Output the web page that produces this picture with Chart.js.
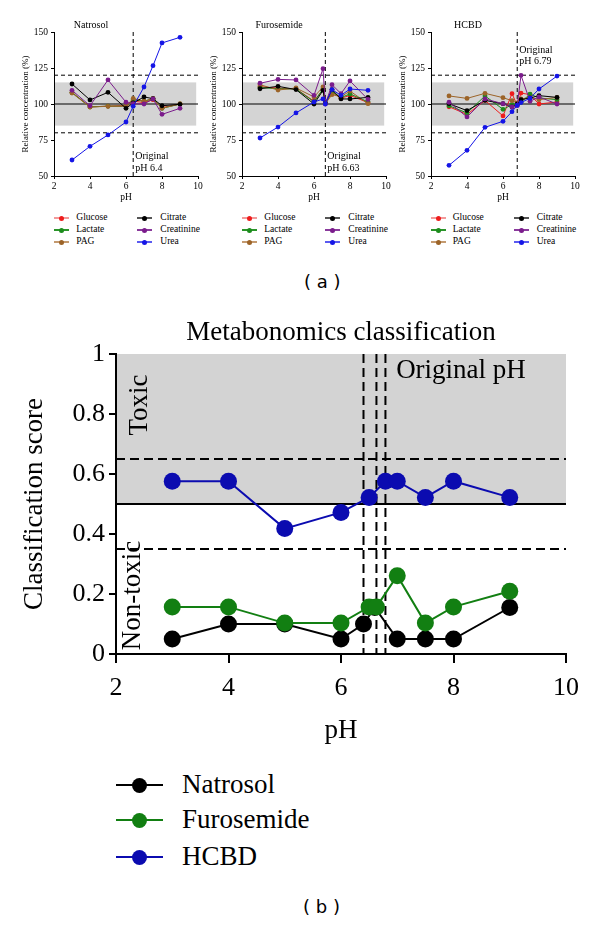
<!DOCTYPE html>
<html>
<head>
<meta charset="utf-8">
<script src="https://cdn.jsdelivr.net/npm/chart.js@4.4.0/dist/chart.umd.min.js"></script>
<style>
  body { margin: 0; background: #fff; width: 600px; height: 925px; position: relative; overflow: hidden; }
  canvas { position: absolute; }
  .abs { position: absolute; white-space: nowrap; }
  .cap { position: absolute; font-family: 'DejaVu Sans', sans-serif; font-size: 18px; color: #000; }
</style>
</head>
<body>
<canvas id="pNat" width="206" height="205" style="left:0px;top:0px"></canvas>
<canvas id="pFur" width="206" height="205" style="left:188px;top:0px"></canvas>
<canvas id="pHcb" width="206" height="205" style="left:377px;top:0px"></canvas>
<canvas id="pCls" width="600" height="440" style="left:0px;top:310px"></canvas>
<div class="cap" style="left:304px;top:271px">( a )</div>
<div class="cap" style="left:303px;top:896px">( b )</div>
<script>
// ---- data ----
// pH values measured per compound (the original pH of each sample included)
const phNatrosol = [3, 4, 5, 6, 6.4, 7, 7.5, 8, 9];
const phFurosemide = [3, 4, 5, 6, 6.5, 6.63, 7, 7.5, 8, 9];
const phHCBD = [3, 4, 5, 6, 6.5, 6.79, 7, 7.5, 8, 9];
const phNatrosolB = [3, 4, 5, 6, 6.4, 6.6, 7, 7.5, 8, 9];

const metabolites = ['Glucose', 'Lactate', 'PAG', 'Citrate', 'Creatinine', 'Urea'];
const compounds = ['Natrosol', 'Furosemide', 'HCBD'];
const originalPh = [6.4, 6.63, 6.79];

// relative concentration (%), Natrosol
const natGlucose = [108, 98, 98.5, 99, 102, 101, 103, 97.5, 100];
const natLactate = [108, 98, 98.5, 98.5, 103, 102, 103.5, 97, 100];
const natPAG = [107.6, 97.9, 98.4, 98.4, 103.9, 101.9, 103.9, 97, 100];
const natCitrate = [113.9, 102.8, 108.1, 97, 100.7, 104.9, 103.7, 98.8, 99.8];
const natCreatinine = [109.5, 98.8, 116.7, 101.2, 100.2, 100, 103.5, 92.8, 97];
const natUrea = [61.1, 70.6, 78.5, 87.5, 98.4, 111.8, 126.6, 142.4, 146.3];

// relative concentration (%), Furosemide
const furGlucose = [112, 111, 110.5, 102, 110, 100.5, 108, 104, 106, 101];
const furLactate = [111.5, 110.5, 110.5, 101.5, 110.5, 100.5, 108.5, 104.5, 107, 101.5];
const furPAG = [113.4, 109.7, 111.1, 104.9, 111.8, 100.2, 106.5, 105.1, 109, 100.2];
const furCitrate = [110.6, 112.3, 110, 100, 109.5, 100.7, 110, 103.5, 103.5, 104.6];
const furCreatinine = [114.4, 117.1, 116.7, 106, 124.5, 100, 113.4, 107.2, 116, 103.2];
const furUrea = [76.4, 84, 93.8, 101.4, 103.5, 100, 110, 106, 110.4, 109.5];

// relative concentration (%), HCBD
const hcbGlucose = [98.1, 92.8, 102.5, 91.7, 107.2, 99, 107.6, 106.5, 100, 101.4];
const hcbLactate = [98.8, 93.8, 105.6, 96.3, 99.5, 100, 101.2, 106.9, 104.2, 103];
const hcbPAG = [105.6, 103.9, 107.4, 104.4, 102.3, 100.7, 103.5, 104.6, 103, 104.6];
const hcbCitrate = [100.2, 95.4, 102.5, 100.2, 97.9, 100, 103, 104.2, 105.8, 104.6];
const hcbCreatinine = [101.2, 91, 103.5, 100.2, 97.9, 99, 119.9, 101.9, 104.9, 100];
const hcbUrea = [57.4, 67.8, 83.8, 88, 94.7, 99, 101, 104, 110.4, 119.4];

// classification score
const scoreNatrosol = [0.05, 0.10, 0.10, 0.05, 0.10, 0.155, 0.05, 0.05, 0.05, 0.155];
const scoreFurosemide = [0.157, 0.157, 0.103, 0.103, 0.157, 0.157, 0.261, 0.103, 0.157, 0.209];
const scoreHCBD = [0.576, 0.576, 0.418, 0.472, 0.522, 0.576, 0.576, 0.522, 0.576, 0.522];

// reference bands / thresholds
const concBand = [85, 115];
const concLimits = [80, 120];
const concRef = 100;
const scoreBand = [0.5, 1];
const scoreLimits = [0.35, 0.65];
const scoreRef = 0.5;

// ---- style ----
const serif = "'Liberation Serif', 'Times New Roman', serif";
const metColors = ['#ee1c1c', '#1b8c1b', '#9c6428', '#000000', '#7b1c8c', '#1515e6'];
const metLineColors = ['#f39a9a', '#2a942a', '#c49a70', '#555555', '#8a3a9c', '#5a5af0'];
const metOrder = [5, 4, 3, 2, 1, 0];
const cmpColors = ['#000000', '#127f12', '#0b0bb0'];
const cmpOrder = [1, 0, 2];

function xy(xs, ys) { return xs.map((x, i) => ({ x: x, y: ys[i] })); }

const decoPlugin = {
  id: 'deco',
  beforeDraw(chart, args, o) {
    const { ctx, scales: { x, y } } = chart;
    const x0 = x.getPixelForValue(o.bandX[0]), x1 = x.getPixelForValue(o.bandX[1]);
    const y0 = y.getPixelForValue(o.band[1]), y1 = y.getPixelForValue(o.band[0]);
    ctx.save();
    ctx.fillStyle = o.bandColor;
    ctx.fillRect(x0, y0, x1 - x0, y1 - y0);
    ctx.restore();
  },
  beforeDatasetsDraw(chart, args, o) {
    const { ctx, chartArea: a, scales: { x, y } } = chart;
    const seg = (ax, ay, bx, by) => { ctx.beginPath(); ctx.moveTo(ax, ay); ctx.lineTo(bx, by); ctx.stroke(); };
    ctx.save();
    ctx.strokeStyle = '#000';
    ctx.lineWidth = o.lineWidth;
    ctx.setLineDash(o.dash);
    o.limits.forEach(v => { const p = y.getPixelForValue(v); seg(a.left, p, a.right, p); });
    o.orig.forEach(v => { const p = x.getPixelForValue(v); seg(p, a.top, p, a.bottom); });
    ctx.setLineDash([]);
    const r = y.getPixelForValue(o.ref);
    seg(a.left, r, a.right, r);
    ctx.restore();
  },
  afterDatasetsDraw(chart, args, o) {
    const { ctx, chartArea: a, scales: { x, y } } = chart;
    o.labels.forEach(l => {
      let px;
      if (l.center) px = (a.left + a.right) / 2;
      else if (l.ax != null) px = a.left + l.ax;
      else px = x.getPixelForValue(l.x) + (l.dx || 0);
      const py = l.py != null ? l.py : y.getPixelForValue(l.y);
      ctx.save();
      ctx.fillStyle = '#000';
      ctx.font = l.size + 'px ' + serif;
      ctx.textAlign = l.align || 'left';
      ctx.textBaseline = 'middle';
      ctx.translate(px, py);
      if (l.rotate) ctx.rotate(-Math.PI / 2);
      ctx.fillText(l.text, 0, 0);
      ctx.restore();
    });
  }
};

// ---- top panels (a) ----
function makePanel(id, name, ph, series, orig, labelTop) {
  const datasets = series.map((vals, i) => ({
    label: metabolites[i],
    data: xy(ph, vals),
    borderColor: metColors[i],
    backgroundColor: metColors[i],
    borderWidth: 1,
    pointRadius: 2.4,
    pointBorderWidth: 0,
    order: metOrder[i]
  }));
  const ly = labelTop ? [137, 129.4] : [63.4, 55];
  new Chart(document.getElementById(id), {
    type: 'line',
    data: { datasets: datasets },
    plugins: [decoPlugin],
    options: {
      responsive: false,
      animation: false,
      layout: { padding: { top: 32, right: 8, bottom: 0, left: 0 } },
      plugins: {
        legend: { display: false },
        tooltip: { enabled: false },
        deco: {
          band: concBand, bandX: [2, 9.9], bandColor: '#d4d4d4',
          limits: concLimits, ref: concRef, orig: [orig],
          lineWidth: 1, dash: [4, 3],
          labels: [
            { text: name, ax: 37, py: 25, size: 10, align: 'center' },
            { text: 'Original', x: orig, dx: 2, y: ly[0], size: 10 },
            { text: 'pH ' + orig, x: orig, dx: 2, y: ly[1], size: 10 }
          ]
        }
      },
      scales: {
        x: {
          type: 'linear', min: 2, max: 10,
          afterFit: s => { s.height = 29; },
          ticks: { stepSize: 2, autoSkip: false, maxRotation: 0, color: '#000', padding: 2, font: { family: serif, size: 9.5 } },
          grid: { drawOnChartArea: false, tickLength: 3, color: '#000', lineWidth: 1 },
          border: { color: '#000', width: 1 },
          title: { display: true, text: 'pH', color: '#000', font: { family: serif, size: 9.5 }, padding: { top: 0, bottom: 1.5 } }
        },
        y: {
          min: 50, max: 150,
          afterFit: s => { s.width = 54; },
          ticks: { stepSize: 25, color: '#000', padding: 3, font: { family: serif, size: 9.5 } },
          grid: { drawOnChartArea: false, tickLength: 3, color: '#000', lineWidth: 1 },
          border: { color: '#000', width: 1 },
          title: { display: true, text: 'Relative concentration (%)', color: '#000', font: { family: serif, size: 9 }, padding: { top: 20, bottom: 0 } }
        }
      }
    }
  });
}

makePanel('pNat', compounds[0], phNatrosol,
  [natGlucose, natLactate, natPAG, natCitrate, natCreatinine, natUrea], originalPh[0], false);
makePanel('pFur', compounds[1], phFurosemide,
  [furGlucose, furLactate, furPAG, furCitrate, furCreatinine, furUrea], originalPh[1], false);
makePanel('pHcb', compounds[2], phHCBD,
  [hcbGlucose, hcbLactate, hcbPAG, hcbCitrate, hcbCreatinine, hcbUrea], originalPh[2], true);

// ---- classification chart (b) ----
const clsX = [phNatrosolB, phFurosemide, phHCBD];
const clsY = [scoreNatrosol, scoreFurosemide, scoreHCBD];
new Chart(document.getElementById('pCls'), {
  type: 'line',
  data: {
    datasets: compounds.map((c, i) => ({
      label: c,
      data: xy(clsX[i], clsY[i]),
      borderColor: cmpColors[i],
      backgroundColor: cmpColors[i],
      borderWidth: 2,
      pointRadius: 8.5,
      pointBorderWidth: 0,
      order: cmpOrder[i]
    }))
  },
  plugins: [decoPlugin],
  options: {
    responsive: false,
    animation: false,
    layout: { padding: { top: 44, right: 34, bottom: 0, left: 0 } },
    plugins: {
      legend: { display: false },
      tooltip: { enabled: false },
      deco: {
        band: scoreBand, bandX: [2, 10], bandColor: '#d3d3d3',
        limits: scoreLimits, ref: scoreRef, orig: originalPh,
        lineWidth: 2, dash: [9, 5],
        labels: [
          { text: 'Metabonomics classification', center: true, py: 23, size: 27, align: 'center' },
          { text: 'Toxic', x: 2.42, y: 0.83, size: 27, align: 'center', rotate: true },
          { text: 'Non-toxic', x: 2.3, y: 0.195, size: 27, align: 'center', rotate: true },
          { text: 'Original pH', x: 6.98, y: 0.942, size: 27 }
        ]
      }
    },
    scales: {
      x: {
        type: 'linear', min: 2, max: 10,
        afterFit: s => { s.height = 96; },
        ticks: { stepSize: 2, autoSkip: false, maxRotation: 0, color: '#000', padding: 10, font: { family: serif, size: 26 } },
        grid: { drawOnChartArea: false, tickLength: 9, color: '#000', lineWidth: 2 },
        border: { color: '#000', width: 2 },
        title: { display: true, text: 'pH', color: '#000', font: { family: serif, size: 27 }, padding: { top: 0, bottom: 3 } }
      },
      y: {
        min: 0, max: 1,
        afterFit: s => { s.width = 116; },
        ticks: {
          stepSize: 0.2, color: '#000', padding: 4, font: { family: serif, size: 26 },
          callback: v => String(Number(v.toFixed(1)))
        },
        grid: { drawOnChartArea: false, tickLength: 7, color: '#000', lineWidth: 2 },
        border: { color: '#000', width: 2 },
        title: { display: true, text: 'Classification score', color: '#000', font: { family: serif, size: 27 }, padding: { top: 19, bottom: 0 } }
      }
    }
  }
});

// ---- html legends ----
function legendItem(cx, cy, lineW, lineH, lineColor, dotD, dotColor, textX, text, fontSize) {
  const line = document.createElement('div');
  line.className = 'abs';
  line.style.cssText += `left:${cx - lineW / 2}px;top:${cy - lineH / 2}px;width:${lineW}px;height:${lineH}px;background:${lineColor}`;
  const dot = document.createElement('div');
  dot.className = 'abs';
  dot.style.cssText += `left:${cx - dotD / 2}px;top:${cy - dotD / 2}px;width:${dotD}px;height:${dotD}px;border-radius:50%;background:${dotColor}`;
  const label = document.createElement('div');
  label.className = 'abs';
  label.textContent = text;
  label.style.cssText += `left:${textX}px;top:${cy - fontSize * 0.62}px;font-family:${serif};font-size:${fontSize}px;line-height:${fontSize * 1.2}px;color:#000`;
  document.body.append(line, dot, label);
}

const panelLeft = [54.3, 242.3, 430.7];
const legendRowsA = [218, 230, 242];
panelLeft.forEach(base => {
  metabolites.forEach((m, i) => {
    const col = Math.floor(i / 3), row = i % 3;
    const cx = base + 7.5 + col * 83;
    legendItem(cx, legendRowsA[row], 15, 1.5, metLineColors[i], 5, metColors[i], base + 22 + col * 84, m, 9.5);
  });
});

const legendRowsB = [785, 820, 857];
compounds.forEach((c, i) => {
  legendItem(139.5, legendRowsB[i], 47, 2, cmpColors[i], 15, cmpColors[i], 182, c, 27);
});
</script>
</body>
</html>
